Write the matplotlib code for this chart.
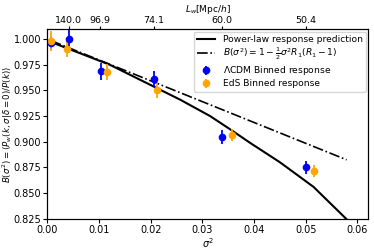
import numpy as np
import matplotlib
matplotlib.use('Agg')
import matplotlib.pyplot as plt

# binned measurements
s2_lcdm = [0.0007, 0.0041, 0.0103, 0.0206, 0.0338, 0.0500]
B_lcdm = [0.9965, 1.0006, 0.9686, 0.9612, 0.9044, 0.8750]
err_lcdm = [0.006, 0.0095, 0.0085, 0.008, 0.0067, 0.0064]

s2_eds = [0.00066, 0.0039, 0.0115, 0.0212, 0.0357, 0.0516]
B_eds = [0.998, 0.9904, 0.968, 0.950, 0.9067, 0.8717]
err_eds = [0.010, 0.008, 0.008, 0.0075, 0.0055, 0.0056]

# prediction curves
s2_pl = [0.0008, 0.0121, 0.0257, 0.0315, 0.0360, 0.0392, 0.0450, 0.0515, 0.0582]
B_pl = [0.997, 0.975, 0.941, 0.925, 0.910, 0.899, 0.880, 0.856, 0.823]
s2_lin = [0.0007, 0.0579]
B_lin = [0.9986, 0.8824]

# top axis
Lw_pos = [0.0041, 0.0102, 0.0206, 0.0338, 0.0500]
Lw_labels = ['140.0', '96.9', '74.1', '60.0', '50.4']

fs = 7
fig = plt.figure(figsize=(3.74, 2.49), dpi=100)
ax = fig.add_axes([0.1265, 0.1217, 0.8583, 0.7607])

ax.plot(s2_pl, B_pl, color='black', lw=1.5, label='Power-law response prediction')
ax.plot(s2_lin, B_lin, color='black', lw=1.2, ls='-.',
        label=r'$B(\sigma^2) = 1 - \frac{1}{2}\sigma^2 R_1(R_1-1)$')
ax.errorbar(s2_lcdm, B_lcdm, yerr=err_lcdm, fmt='o', color='blue', ms=4.5,
            elinewidth=1.3, label=r'$\Lambda$CDM Binned response')
ax.errorbar(s2_eds, B_eds, yerr=err_eds, fmt='o', color='orange', ms=4.5,
            elinewidth=1.3, label='EdS Binned response')

ax.set_xlim(0, 0.0621)
ax.set_ylim(0.825, 1.0096)
ax.set_yticks(np.arange(0.825, 1.001, 0.025))
ax.set_xlabel(r'$\sigma^2$', fontsize=fs, labelpad=1)
ax.set_ylabel(r'$B(\sigma^2) = \langle P_w(k,\sigma|\delta=0)/P(k)\rangle$', fontsize=6.2)
ax.yaxis.set_label_coords(-0.102, 0.5)
ax.tick_params(labelsize=fs, length=3, pad=1.5)
ax.legend(loc='upper right', fontsize=6.6, handlelength=2.0, borderpad=0.35,
          labelspacing=0.22, handletextpad=0.8, borderaxespad=0.25)

ax2 = ax.twiny()
ax2.set_xlim(ax.get_xlim())
ax2.set_xticks(Lw_pos)
ax2.set_xticklabels(Lw_labels)
ax2.tick_params(labelsize=6.8, length=2.5, pad=0.5)
ax2.set_xlabel(r'$L_w$[Mpc/$h$]', fontsize=6.5, labelpad=3)

fig.savefig('out.png', dpi=100)
